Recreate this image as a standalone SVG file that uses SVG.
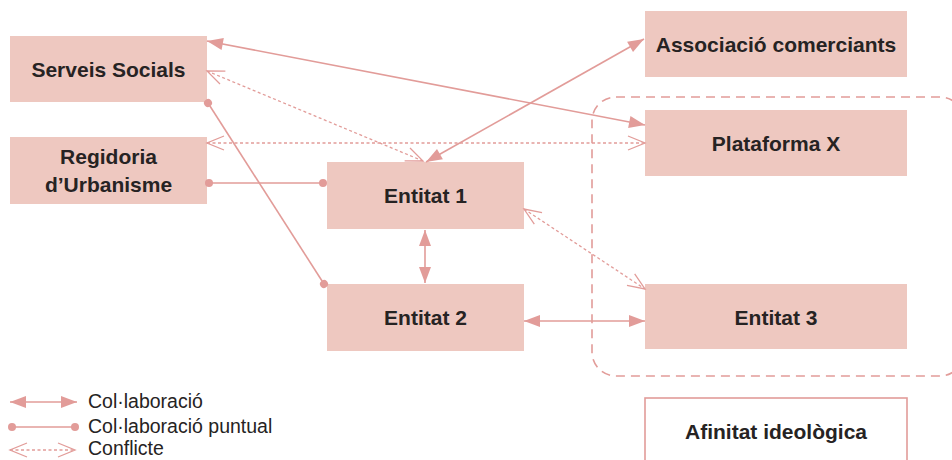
<svg xmlns="http://www.w3.org/2000/svg" width="952" height="460" viewBox="0 0 952 460">
<style>
.box{fill:#EEC8C0}
.lbl{font-family:"Liberation Sans",Arial,sans-serif;font-weight:bold;font-size:21px;fill:#262323;text-anchor:middle}
.leg{font-family:"Liberation Sans",Arial,sans-serif;font-size:19.5px;fill:#262323}
.collab{stroke:#E29C99;stroke-width:1.6;fill:none;marker-start:url(#fa);marker-end:url(#fa)}
.punt{stroke:#E29C99;stroke-width:1.6;fill:none;marker-start:url(#dot);marker-end:url(#dot)}
.conf{stroke:#E29C99;stroke-width:1.3;fill:none;stroke-dasharray:3 2.5;marker-start:url(#oa);marker-end:url(#oa)}
</style>
<defs>
<marker id="fa" markerUnits="userSpaceOnUse" markerWidth="18" markerHeight="14" refX="16" refY="6" orient="auto-start-reverse" overflow="visible">
<path d="M0,0 L16,6 L0,12 z" fill="#E29C99"/>
</marker>
<marker id="oa" markerUnits="userSpaceOnUse" markerWidth="19" markerHeight="16" refX="17" refY="7" orient="auto-start-reverse" overflow="visible">
<path d="M0,0 L17,7 L0,14" fill="none" stroke="#E29C99" stroke-width="1.3"/>
</marker>
<marker id="dot" markerUnits="userSpaceOnUse" markerWidth="10" markerHeight="10" refX="5" refY="5" orient="auto" overflow="visible">
<circle cx="5" cy="5" r="4" fill="#E29C99"/>
</marker>
</defs>

<rect x="592" y="97" width="372" height="279" rx="24" ry="24" fill="none" stroke="#E29C99" stroke-width="1.6" stroke-dasharray="9 6"/>

<g id="serveis-socials"><rect class="box" x="10" y="36" width="197" height="66"/><text class="lbl" x="108.5" y="77">Serveis Socials</text></g>
<g id="regidoria"><rect class="box" x="10" y="137" width="197" height="67"/><text class="lbl" x="108.5" y="164">Regidoria</text><text class="lbl" x="108.5" y="192">d’Urbanisme</text></g>
<g id="entitat1"><rect class="box" x="327" y="162" width="197" height="67"/><text class="lbl" x="425.5" y="203">Entitat 1</text></g>
<g id="entitat2"><rect class="box" x="327" y="284" width="197" height="67"/><text class="lbl" x="425.5" y="325">Entitat 2</text></g>
<g id="associacio"><rect class="box" x="645" y="11" width="262" height="66"/><text class="lbl" x="776" y="52">Associació comerciants</text></g>
<g id="plataforma"><rect class="box" x="645" y="110" width="262" height="66"/><text class="lbl" x="776" y="151">Plataforma X</text></g>
<g id="entitat3"><rect class="box" x="645" y="284" width="262" height="65"/><text class="lbl" x="776" y="325">Entitat 3</text></g>
<g id="afinitat"><rect x="645" y="398" width="262" height="80" fill="#fff" stroke="#E29C99" stroke-width="1.6"/><text class="lbl" x="776" y="439">Afinitat ideològica</text></g>

<g id="connectors">
<line class="collab" x1="207" y1="41" x2="645" y2="125"/>
<line class="collab" x1="644" y1="39" x2="426" y2="162"/>
<line class="collab" x1="425" y1="230" x2="425" y2="283"/>
<line class="collab" x1="524" y1="321" x2="645" y2="321"/>
<line class="conf" x1="207" y1="71" x2="423" y2="161"/>
<line class="conf" x1="207" y1="143" x2="645" y2="143"/>
<line class="conf" x1="524" y1="209" x2="645" y2="289"/>
<line class="punt" x1="209" y1="183" x2="323" y2="183"/>
<line class="punt" x1="208" y1="103" x2="324" y2="284"/>
</g>

<g id="legend">
<line class="collab" x1="10" y1="402" x2="77" y2="402"/>
<text class="leg" x="88" y="408">Col·laboració</text>
<line class="punt" x1="12" y1="427" x2="75" y2="427"/>
<text class="leg" x="88" y="433">Col·laboració puntual</text>
<line class="conf" x1="10" y1="450" x2="75" y2="450"/>
<text class="leg" x="88" y="455">Conflicte</text>
</g>
</svg>
